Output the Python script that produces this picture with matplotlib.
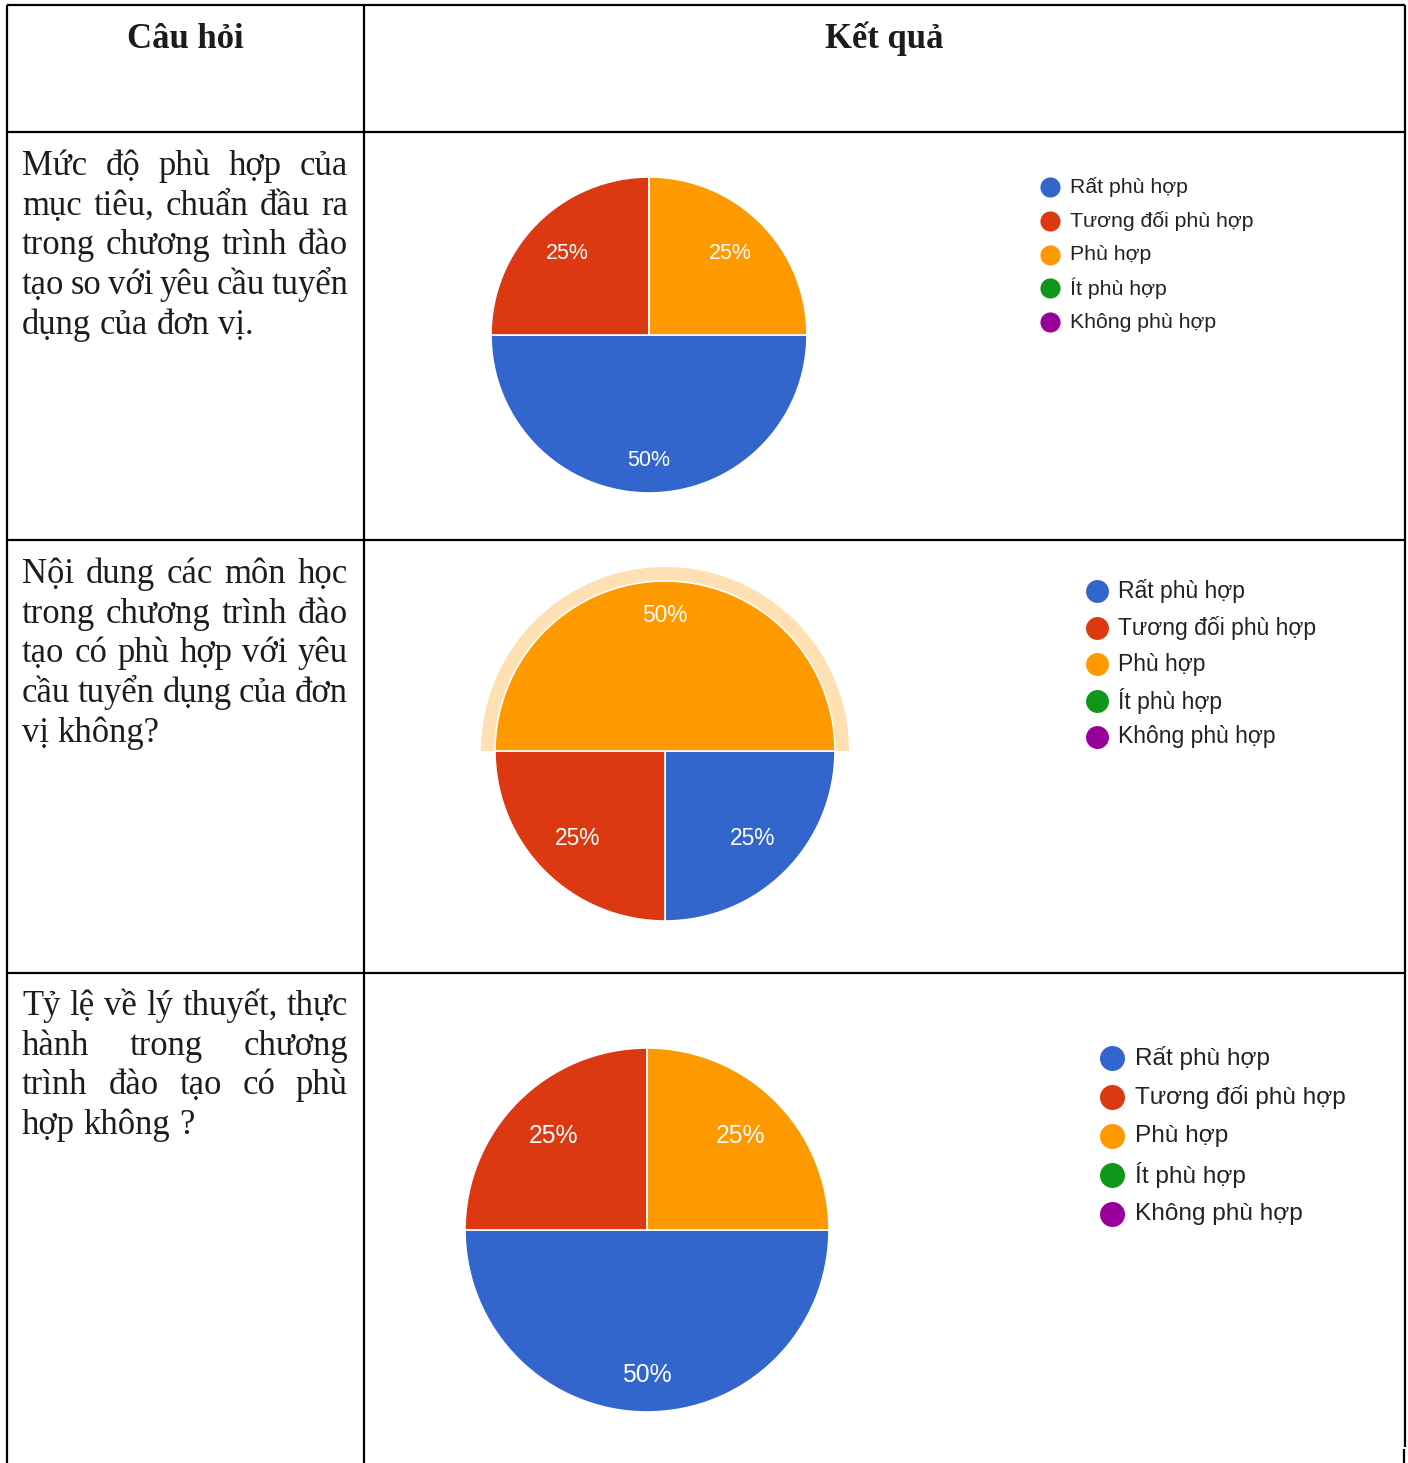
import matplotlib
matplotlib.use('Agg')
import numpy as np
import matplotlib.pyplot as plt
from matplotlib.patches import Wedge

# ==========================================
# Dữ liệu khảo sát
# ==========================================
W, H = 1408, 1463

headers = ['Câu hỏi', 'Kết quả']
categories = ['Rất phù hợp', 'Tương đối phù hợp', 'Phù hợp', 'Ít phù hợp', 'Không phù hợp']
colors = ['#3366CC', '#DC3912', '#FF9900', '#109618', '#990099']

q1_values = [50, 25, 25, 0, 0]
q2_values = [25, 25, 50, 0, 0]
q3_values = [50, 25, 25, 0, 0]

q1_lines = ['Mức độ phù hợp của', 'mục tiêu, chuẩn đầu ra', 'trong chương trình đào',
            'tạo so với yêu cầu tuyển', 'dụng của đơn vị.']
q2_lines = ['Nội dung các môn học', 'trong chương trình đào', 'tạo có phù hợp với yêu',
            'cầu tuyển dụng của đơn', 'vị không?']
q3_lines = ['Tỷ lệ về lý thuyết, thực', 'hành trong chương', 'trình đào tạo có phù',
            'hợp không ?']

# ==========================================
fig = plt.figure(figsize=(W / 100, H / 100), dpi=100)
ax = fig.add_axes([0, 0, 1, 1])
ax.set_xlim(0, W)
ax.set_ylim(H, 0)
ax.axis('off')

# Khung bảng
lw = 1.6
ax.hlines([5, 132, 540, 973], 7, 1405, color='black', linewidth=lw)
ax.vlines([7, 364], 5, H, color='black', linewidth=lw)
ax.vlines(1405, 5, 1447, color='black', linewidth=lw)
ax.vlines(1404, 1449, H, color='black', linewidth=lw)

serif = dict(family=['Liberation Serif', 'DejaVu Serif'], fontsize=24.9, color='#1c1c1c')

# Tiêu đề cột
ax.text(185, 48, headers[0], ha='center', va='baseline', fontweight='bold', **serif)
ax.text(884, 48, headers[1], ha='center', va='baseline', fontweight='bold', **serif)

renderer = fig.canvas.get_renderer()


def draw_justified(lines, y0, x0=22, x1=348, step=39.7):
    for k, line in enumerate(lines):
        yb = y0 + k * step
        words = line.split()
        texts = [ax.text(0, yb, w, ha='left', va='baseline', **serif) for w in words]
        widths = [t.get_window_extent(renderer).width for t in texts]
        if k < len(lines) - 1 and len(words) > 1:
            gap = (x1 - x0 - sum(widths)) / (len(words) - 1)
        else:
            gap = 8.6
        x = x0
        for t, w in zip(texts, widths):
            t.set_x(x)
            x += w + gap


draw_justified(q1_lines, 175)
draw_justified(q2_lines, 583)
draw_justified(q3_lines, 1015)


def draw_pie(values, cx, cy, r, label_size, highlight=None):
    R = r * 1.25
    pax = fig.add_axes([(cx - R) / W, 1 - (cy + R) / H, 2 * R / W, 2 * R / H])
    idx = [i for i, v in enumerate(values) if v > 0]
    wedges, _, autotexts = pax.pie(
        [values[i] for i in idx], colors=[colors[i] for i in idx],
        startangle=0, counterclock=False, radius=r / R,
        autopct=lambda p: f'{p:.0f}%', pctdistance=0.75,
        wedgeprops=dict(edgecolor='white', linewidth=1.2),
        textprops=dict(color='white', fontsize=label_size,
                       family=['Liberation Sans', 'DejaVu Sans']))
    # nhãn của lát lớn nằm xa tâm hơn một chút (kiểu Google Charts)
    for wdg, t in zip(wedges, autotexts):
        span = abs(wdg.theta2 - wdg.theta1)
        d = 0.795 if span > 150 else 0.73
        th = np.deg2rad((wdg.theta1 + wdg.theta2) / 2)
        t.set_position((d * wdg.r * np.cos(th), d * wdg.r * np.sin(th)))
    if highlight is not None:
        wdg = wedges[idx.index(highlight)]
        ring = Wedge((0, 0), (r + 14) / R, wdg.theta1, wdg.theta2,
                     width=14 / R, facecolor='#FFE0B2', edgecolor='none', zorder=0)
        pax.add_patch(ring)
    pax.set_xlim(-1, 1)
    pax.set_ylim(-1, 1)
    pax.axis('off')


def draw_legend(x, y0, step, msize, fsize, pad):
    for i, (cat, col) in enumerate(zip(categories, colors)):
        y = y0 + i * step
        ax.plot(x, y, 'o', markersize=msize, color=col, markeredgewidth=0)
        ax.text(x + pad, y, cat, ha='left', va='center', fontsize=fsize,
                color='#222222', family=['Liberation Sans', 'DejaVu Sans'])


draw_pie(q1_values, 649, 335, 158, 15.5)
draw_legend(1050, 187, 33.8, 14.5, 15.3, 20)

draw_pie(q2_values, 665, 751, 170, 16.4, highlight=2)
draw_legend(1097, 591, 36.5, 16.5, 16.5, 21)

draw_pie(q3_values, 647, 1230, 182, 17.8)
draw_legend(1112, 1058, 39, 18, 17.6, 23)

fig.savefig('out.png', dpi=100)
